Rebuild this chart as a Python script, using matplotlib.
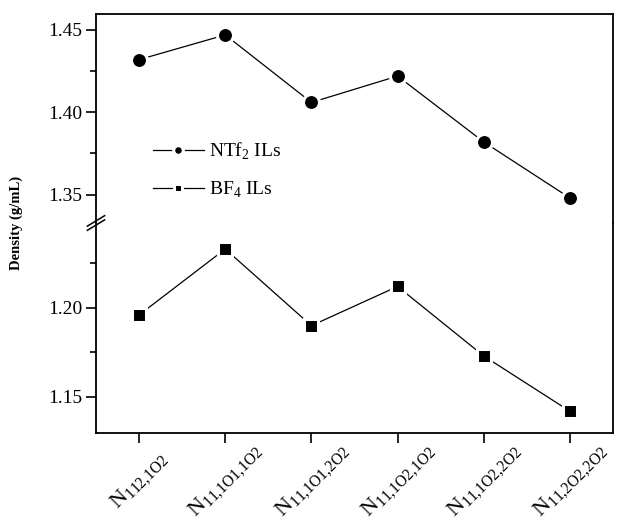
import numpy as np
import matplotlib
matplotlib.use('Agg')
import matplotlib.pyplot as plt
from matplotlib.ticker import MultipleLocator
from matplotlib.transforms import blended_transform_factory

plt.rcParams['font.family'] = 'Liberation Serif'
plt.rcParams['mathtext.fontset'] = 'custom'
plt.rcParams['mathtext.rm'] = 'Liberation Serif'

# cations (subscript part of the N label)
cations = ['112,1O2', '11,1O1,1O2', '11,1O1,2O2', '11,1O2,1O2', '11,1O2,2O2', '11,2O2,2O2']
dens_ntf2 = [1.432, 1.447, 1.406, 1.422, 1.382, 1.348]
dens_bf4 = [1.196, 1.233, 1.190, 1.212, 1.173, 1.142]

x = np.arange(1, len(cations) + 1)
labels = [r'N$_{\mathregular{%s}}$' % c.replace(',', '{,}') for c in cations]

fig = plt.figure(figsize=(6.18, 5.24), dpi=100)
L, R = 96/618, 613/618
ybrk = 1 - 223/524
ax_top = fig.add_axes([L, ybrk, R - L, (1 - 14/524) - ybrk])
ax_bot = fig.add_axes([L, 1 - 433/524, R - L, ybrk - (1 - 433/524)])

mk = dict(color='k', lw=0.9, mfc='k', mec='white', mew=2.2)
ax_top.plot(x, dens_ntf2, marker='o', ms=11.5, label=r'NTf$_{\mathregular{2}}$ ILs', **mk)
ax_bot.plot(x, dens_bf4, marker='s', ms=10.5, label=r'BF$_{\mathregular{4}}$ ILs', **mk)

ax_top.set_ylim(1.3328, 1.4597)
ax_bot.set_ylim(1.1298, 1.2476)
for ax in (ax_top, ax_bot):
    ax.set_xlim(0.5, 6.5)
    ax.yaxis.set_major_locator(MultipleLocator(0.05))
    ax.yaxis.set_minor_locator(MultipleLocator(0.025))
    ax.yaxis.set_major_formatter(matplotlib.ticker.FormatStrFormatter('%.2f'))
    ax.tick_params(axis='y', which='major', direction='out', length=7, width=1.2, labelsize=14, pad=3)
    ax.tick_params(axis='y', which='minor', direction='out', length=4, width=1.2)
    for s in ax.spines.values():
        s.set_linewidth(1.3)

ax_top.spines['bottom'].set_visible(False)
ax_bot.spines['top'].set_visible(False)
ax_top.tick_params(axis='x', which='both', bottom=False, labelbottom=False)
ax_bot.set_xticks(x)
ax_bot.set_xticklabels([])
ax_bot.tick_params(axis='x', direction='out', length=7, width=1.2)

# rotated category labels, centred under each tick
trans = blended_transform_factory(ax_bot.transData, fig.transFigure)
for xi, lab in zip(x, labels):
    ax_bot.text(xi + 0.015, 1 - 481/524, lab, rotation=45, fontsize=16,
                ha='center', va='center', transform=trans, clip_on=False)

# break marks on the left spine
yb = 1 - 223/524
for dy in (-0.004, 0.004):
    fig.add_artist(plt.Line2D([L - 0.014, L + 0.014], [yb + dy - 0.01, yb + dy + 0.01],
                              color='k', lw=1.1, transform=fig.transFigure))

fig.text(16/618, 1 - 223/524, 'Density (g/mL)', rotation=90, fontsize=10.5,
         fontweight='bold', ha='center', va='center')

h1, l1 = ax_top.get_legend_handles_labels()
h2, l2 = ax_bot.get_legend_handles_labels()
ax_top.legend(h1 + h2, l1 + l2, loc='upper left', bbox_to_anchor=(153/618, 1 - 141/524),
              bbox_transform=fig.transFigure, frameon=False, fontsize=14, borderpad=0,
              borderaxespad=0, handlelength=2.6, handletextpad=0.3, labelspacing=0.9,
              markerscale=0.6)

fig.savefig('out.png', dpi=100)
